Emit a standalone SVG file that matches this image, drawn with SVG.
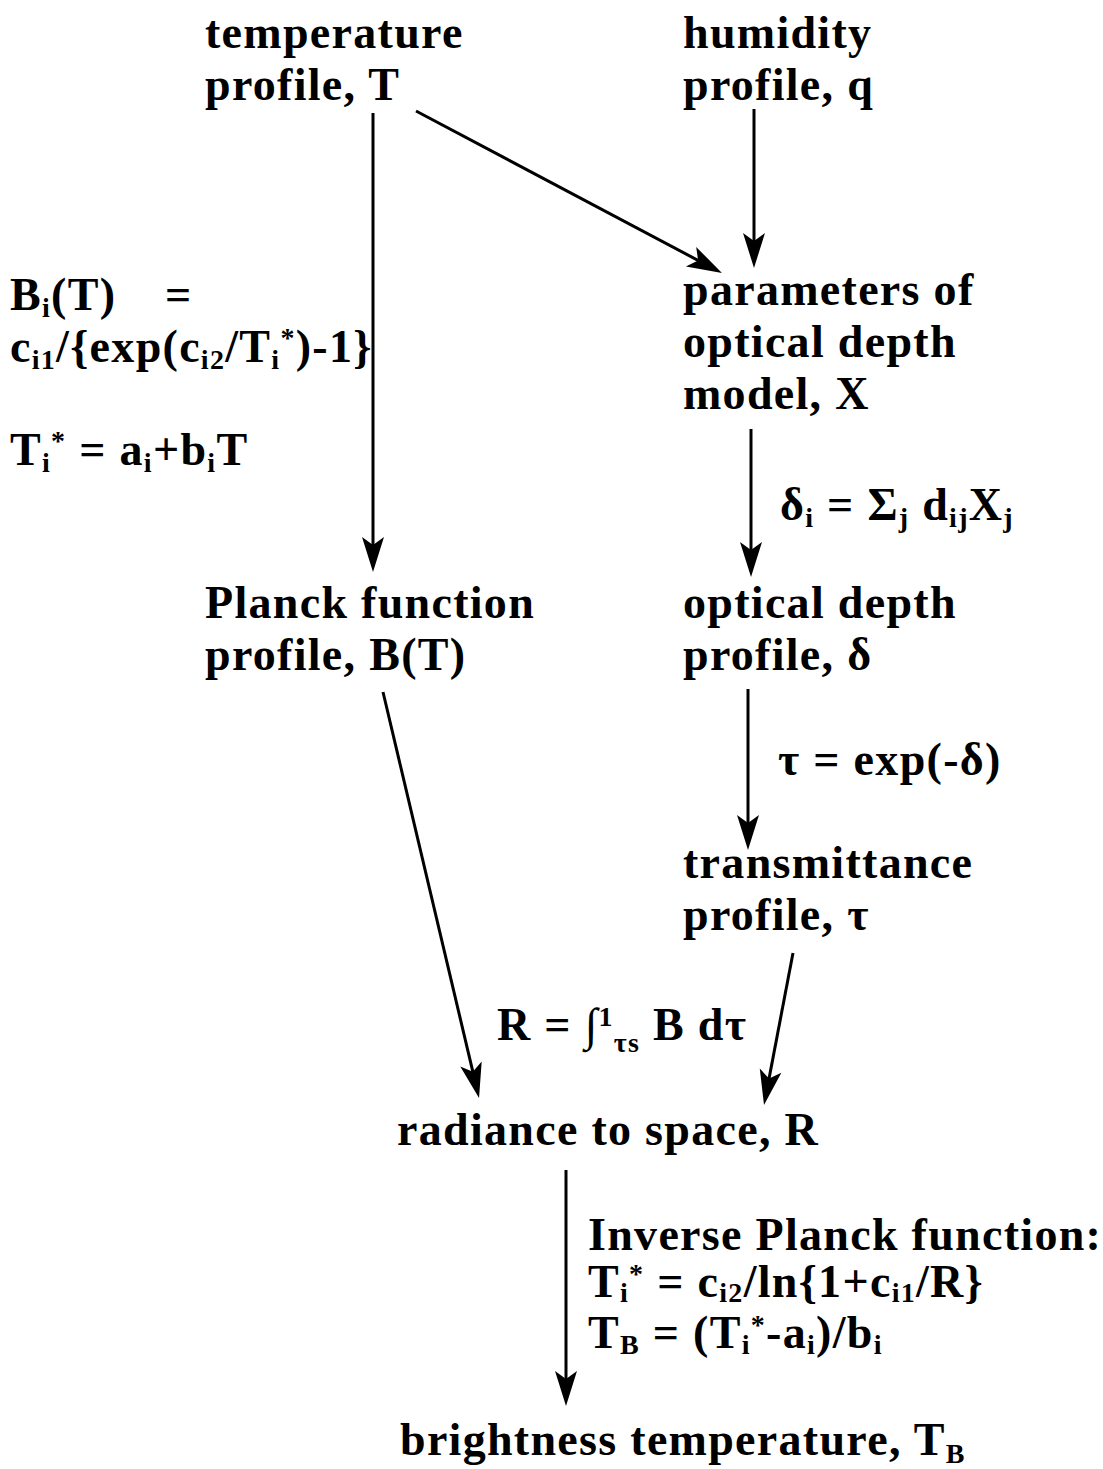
<svg xmlns="http://www.w3.org/2000/svg" width="1103" height="1469" viewBox="0 0 1103 1469">
<style>
text{font-family:"Liberation Serif","Times New Roman",serif;font-weight:bold;font-size:46px;fill:#000;letter-spacing:1.3px}
.s{font-size:28px}
.c{stroke:#000;stroke-width:3;fill:none;marker-end:url(#ah)}
</style>
<defs>
<marker id="ah" markerUnits="userSpaceOnUse" markerWidth="44" markerHeight="26" viewBox="-30 -13 44 26" refX="0" refY="0" orient="auto">
<path d="M8,0 L-27,-11 L-19,0 L-27,11 Z" fill="#000"/>
</marker>
</defs>
<rect width="1103" height="1469" fill="#fff"/>
<g id="connectors">
<path class="c" d="M373,113 L373,564"/>
<path class="c" d="M416,111 L714.9,269.3"/>
<path class="c" d="M754,109 L754,260"/>
<path class="c" d="M751,429 L751,569"/>
<path class="c" d="M748,689 L748,842"/>
<path class="c" d="M383,692 L477.2,1090.2"/>
<path class="c" d="M793,953 L765.5,1097.1"/>
<path class="c" d="M566,1170 L566,1398"/>
</g>
<g id="temperature-profile"><text x="205" y="48">temperature</text><text x="205" y="100">profile, T</text></g>
<g id="humidity-profile"><text x="683" y="48">humidity</text><text x="683" y="100">profile, q</text></g>
<g id="planck-formula">
<text x="10" y="310">B<tspan class="s" dy="7">i</tspan><tspan dy="-7">(T)</tspan></text>
<text x="165" y="310">=</text>
<text x="10" y="362">c<tspan class="s" dy="7">i1</tspan><tspan dy="-7">/{exp(c</tspan><tspan class="s" dy="7">i2</tspan><tspan dy="-7">/T</tspan><tspan class="s" dy="7">i</tspan><tspan class="s" dy="-22">*</tspan><tspan dy="15">)-1}</tspan></text>
<text x="10" y="465">T<tspan class="s" dy="7">i</tspan><tspan class="s" dy="-22">*</tspan><tspan dy="15"> = a</tspan><tspan class="s" dy="7">i</tspan><tspan dy="-7">+b</tspan><tspan class="s" dy="7">i</tspan><tspan dy="-7">T</tspan></text>
</g>
<g id="optical-depth-model"><text x="683" y="305">parameters of</text><text x="683" y="357">optical depth</text><text x="683" y="409">model, X</text></g>
<g id="delta-formula"><text x="780" y="520">δ<tspan class="s" dy="7">i</tspan><tspan dy="-7"> = Σ</tspan><tspan class="s" dy="7">j</tspan><tspan dy="-7"> d</tspan><tspan class="s" dy="7">ij</tspan><tspan dy="-7">X</tspan><tspan class="s" dy="7">j</tspan></text></g>
<g id="planck-profile"><text x="205" y="618">Planck function</text><text x="205" y="670">profile, B(T)</text></g>
<g id="optical-depth-profile"><text x="683" y="618">optical depth</text><text x="683" y="670">profile, δ</text></g>
<g id="tau-formula"><text x="778" y="775">τ = exp(-δ)</text></g>
<g id="transmittance-profile"><text x="683" y="878">transmittance</text><text x="683" y="930">profile, τ</text></g>
<g id="radiance-formula"><text x="497" y="1040">R = ∫<tspan class="s" dy="-14">1</tspan><tspan class="s" dy="26">τs</tspan><tspan dy="-12"> B dτ</tspan></text></g>
<g id="radiance"><text x="397" y="1145">radiance to space, R</text></g>
<g id="inverse-planck">
<text x="588" y="1250">Inverse Planck function:</text>
<text x="588" y="1297">T<tspan class="s" dy="5">i</tspan><tspan class="s" dy="-19">*</tspan><tspan dy="14"> = c</tspan><tspan class="s" dy="5">i2</tspan><tspan dy="-5">/ln{1+c</tspan><tspan class="s" dy="5">i1</tspan><tspan dy="-5">/R}</tspan></text>
<text x="588" y="1348">T<tspan class="s" dy="6">B</tspan><tspan dy="-6"> = (T</tspan><tspan class="s" dy="6">i</tspan><tspan class="s" dy="-20">*</tspan><tspan dy="14">-a</tspan><tspan class="s" dy="6">i</tspan><tspan dy="-6">)/b</tspan><tspan class="s" dy="6">i</tspan></text>
</g>
<g id="brightness-temperature"><text x="400" y="1455">brightness temperature, T<tspan class="s" dy="8">B</tspan></text></g>
</svg>
